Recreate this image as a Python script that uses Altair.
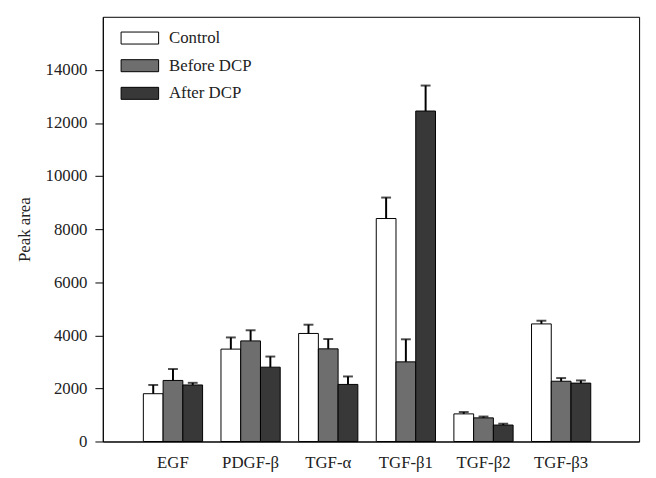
import altair as alt
import pandas as pd

categories = ["EGF", "PDGF-β", "TGF-α", "TGF-β1", "TGF-β2", "TGF-β3"]
groups = ["Control", "Before DCP", "After DCP"]

control_mean = [1800, 3480, 4070, 8400, 1040, 4430]
before_mean = [2300, 3790, 3490, 3000, 890, 2270]
after_mean = [2130, 2800, 2150, 12450, 620, 2200]

control_err = [330, 440, 330, 790, 70, 120]
before_err = [430, 400, 370, 850, 50, 120]
after_err = [80, 400, 300, 960, 50, 100]

y_ticks = [0, 2000, 4000, 6000, 8000, 10000, 12000, 14000]
fill_colors = ["#ffffff", "#6e6e6e", "#383838"]

rows = []
for g, means, errs in [
    ("Control", control_mean, control_err),
    ("Before DCP", before_mean, before_err),
    ("After DCP", after_mean, after_err),
]:
    for c, m, e in zip(categories, means, errs):
        rows.append({"cat": c, "group": g, "mean": m, "top": m + e})
df = pd.DataFrame(rows)

FONT = "Liberation Serif"

x_enc = alt.X(
    "cat:N",
    sort=categories,
    title=None,
    scale=alt.Scale(paddingInner=0.237, paddingOuter=0.5725, align=0.456),
    axis=alt.Axis(
        labelAngle=0,
        ticks=False,
        labelPadding=13,
        labelFontSize=17,
        labelFont=FONT,
        labelColor="#222222",
        domainColor="black",
    ),
)
xo_enc = alt.XOffset(
    "group:N", sort=groups, scale=alt.Scale(paddingInner=0, paddingOuter=0)
)

base = alt.Chart(df)

bars = base.mark_bar(stroke="black", strokeWidth=1).encode(
    x=x_enc,
    xOffset=xo_enc,
    y=alt.Y(
        "mean:Q",
        title="Peak area",
        scale=alt.Scale(domain=[0, 16000], nice=False),
        axis=alt.Axis(
            values=y_ticks,
            format="d",
            grid=False,
            tickSize=8,
            tickColor="black",
            domainColor="black",
            labelPadding=8,
            labelFontSize=17,
            labelFont=FONT,
            labelColor="#222222",
            titleFont=FONT,
            titleFontSize=17,
            titleFontWeight="normal",
            titleColor="#222222",
            titlePadding=12,
        ),
    ),
    fill=alt.Fill(
        "group:N",
        sort=groups,
        scale=alt.Scale(domain=groups, range=fill_colors),
        legend=alt.Legend(
            title=None,
            orient="none",
            legendX=18,
            legendY=2,
            padding=0,
            symbolType="M-1,-0.32L1,-0.32L1,0.32L-1,0.32Z",
            symbolSize=1444,
            symbolStrokeColor="black",
            symbolStrokeWidth=1,
            labelFont=FONT,
            labelFontSize=17,
            labelColor="#222222",
            labelOffset=10,
            rowPadding=0,
        ),
    ),
)

err_rule = base.mark_rule(color="black", strokeWidth=2).encode(
    x=x_enc, xOffset=xo_enc, y="mean:Q", y2="top:Q"
)
err_cap = base.mark_tick(color="black", size=10, thickness=2).encode(
    x=x_enc, xOffset=xo_enc, y="top:Q"
)

chart = (
    alt.layer(bars, err_rule, err_cap)
    .properties(
        width=543,
        height=430,
        autosize=alt.AutoSizeParams(type="none"),
        padding={"left": 96, "top": 6, "right": 9, "bottom": 30},
        background="white",
    )
    .configure_view(stroke="black", strokeWidth=1)
)

chart.save("out.html", embed_options={"renderer": "svg", "actions": False})
